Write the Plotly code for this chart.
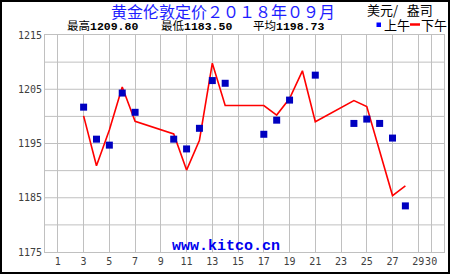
import plotly.graph_objects as go

# ---------------- data ----------------
am_days = [3, 4, 5, 6, 7, 10, 11, 12, 13, 14, 17, 18, 19, 21, 24, 25, 26, 27, 28]
am_values = [1201.7, 1195.8, 1194.7, 1204.3, 1200.75, 1195.8, 1194.0, 1197.8, 1206.6,
             1206.1, 1196.7, 1199.3, 1203.0, 1207.6, 1198.7, 1199.5, 1198.7, 1196.0, 1183.5]
pm_days = [3, 4, 5, 6, 7, 10, 11, 12, 13, 14, 17, 18, 19, 20, 21, 24, 25, 26, 27, 28]
pm_values = [1200.1, 1190.9, 1197.5, 1205.4, 1199.1, 1196.75, 1190.1, 1195.6, 1209.8,
             1202.0, 1202.0, 1200.25, 1203.3, 1208.4, 1199.0, 1202.9, 1201.8, 1193.6,
             1185.4, 1187.2]
x_tick_vals = [1, 3, 5, 7, 9, 11, 13, 15, 17, 19, 21, 23, 25, 27, 29, 30]
x_tick_text = [str(v) for v in x_tick_vals]
y_tick_vals = [1175, 1185, 1195, 1205, 1215]
title_text = "黄金伦敦定价２０１８年０９月"
unit_text = "美元/&nbsp;&nbsp;&nbsp;盎司"
stats = [("最高", "1209.80"), ("最低", "1183.50"), ("平均", "1198.73")]
legend_labels = ["上午", "下午"]
site_text = "www.kitco.cn"

# ---------------- layout geometry ----------------
W, H = 450, 275
ML, MR, MT, MB = 45, 6, 35, 23
PW, PH = W - ML - MR, H - MT - MB


def px(x):
    return (x - ML) / PW


def py(y):
    return (H - MB - y) / PH


CJK = "Noto Sans CJK SC"
MONO = "Liberation Mono, " + CJK

fig = go.Figure()
fig.add_trace(go.Scatter(
    x=pm_days, y=pm_values, mode="lines",
    line=dict(color="#ff0000", width=1.6), hoverinfo="skip", showlegend=False))
fig.add_trace(go.Scatter(
    x=am_days, y=am_values, mode="markers",
    marker=dict(symbol="square", size=7, color="#0000c0", line=dict(width=0)),
    hoverinfo="skip", showlegend=False))

grid = "#c0c0c0"
fig.update_xaxes(range=[0, 31], tickvals=x_tick_vals, ticktext=x_tick_text, tickangle=0,
                 showgrid=True, gridcolor=grid, gridwidth=1, zeroline=False,
                 showline=True, linecolor=grid, linewidth=1, mirror=True, ticks="",
                 tickfont=dict(family="DejaVu Sans Mono", size=10, color="#404040"))
fig.update_yaxes(range=[1175, 1215], tickvals=y_tick_vals,
                 showgrid=False, zeroline=False,
                 showline=True, linecolor=grid, linewidth=1, mirror=True, ticks="",
                 tickfont=dict(family="DejaVu Sans Mono", size=10, color="#404040"))

shapes = []
# horizontal gridlines every 5
for v in range(1180, 1215, 5):
    shapes.append(dict(type="line", xref="paper", yref="y", x0=0, x1=1, y0=v, y1=v,
                       line=dict(color=grid, width=1), layer="below"))
# outer frame
shapes.append(dict(type="rect", xref="paper", yref="paper",
                   x0=px(1), x1=px(449), y0=py(1), y1=py(273),
                   line=dict(color="black", width=2), fillcolor="rgba(0,0,0,0)"))
# legend marks
shapes.append(dict(type="rect", xref="paper", yref="paper",
                   x0=px(376.5), x1=px(381), y0=py(22.5), y1=py(27),
                   line=dict(width=0), fillcolor="#0000ff"))
shapes.append(dict(type="line", xref="paper", yref="paper",
                   x0=px(410), x1=px(420), y0=py(24.5), y1=py(24.5),
                   line=dict(color="#ff0000", width=2.5)))

ann = []
ann.append(dict(text=title_text, x=px(223), y=py(10.5), xref="paper", yref="paper",
                showarrow=False, xanchor="center", yanchor="middle", borderpad=0,
                font=dict(family=CJK, size=16, color="#1e1eff")))
ann.append(dict(text=unit_text, x=px(434), y=py(9), xref="paper", yref="paper",
                showarrow=False, xanchor="right", yanchor="middle", borderpad=0,
                font=dict(family=CJK, size=13, color="black")))
stat_x = [65.5, 160, 252]
for (lab, val), sx in zip(stats, stat_x):
    ann.append(dict(text=lab + "<b>" + val + "</b>", x=px(sx), y=py(26),
                    xref="paper", yref="paper", showarrow=False, borderpad=0,
                    xanchor="left", yanchor="middle",
                    font=dict(family=MONO, size=11.5, color="black")))
ann.append(dict(text=legend_labels[0], x=px(382.5), y=py(25), xref="paper", yref="paper",
                showarrow=False, xanchor="left", yanchor="middle", borderpad=0,
                font=dict(family=CJK, size=13, color="black")))
ann.append(dict(text=legend_labels[1], x=px(419.5), y=py(25), xref="paper", yref="paper",
                showarrow=False, xanchor="left", yanchor="middle", borderpad=0,
                font=dict(family=CJK, size=13, color="black")))
ann.append(dict(text="<b>" + site_text + "</b>", x=px(225.5), y=py(246.5),
                xref="paper", yref="paper", showarrow=False, borderpad=0,
                xanchor="center", yanchor="middle",
                font=dict(family="Liberation Mono", size=15, color="#0000ee")))

fig.update_layout(width=W, height=H, margin=dict(l=ML, r=MR, t=MT, b=MB, pad=0),
                  paper_bgcolor="white", plot_bgcolor="white",
                  shapes=shapes, annotations=ann, showlegend=False)

fig.write_html("out.html", config={"displayModeBar": False})
